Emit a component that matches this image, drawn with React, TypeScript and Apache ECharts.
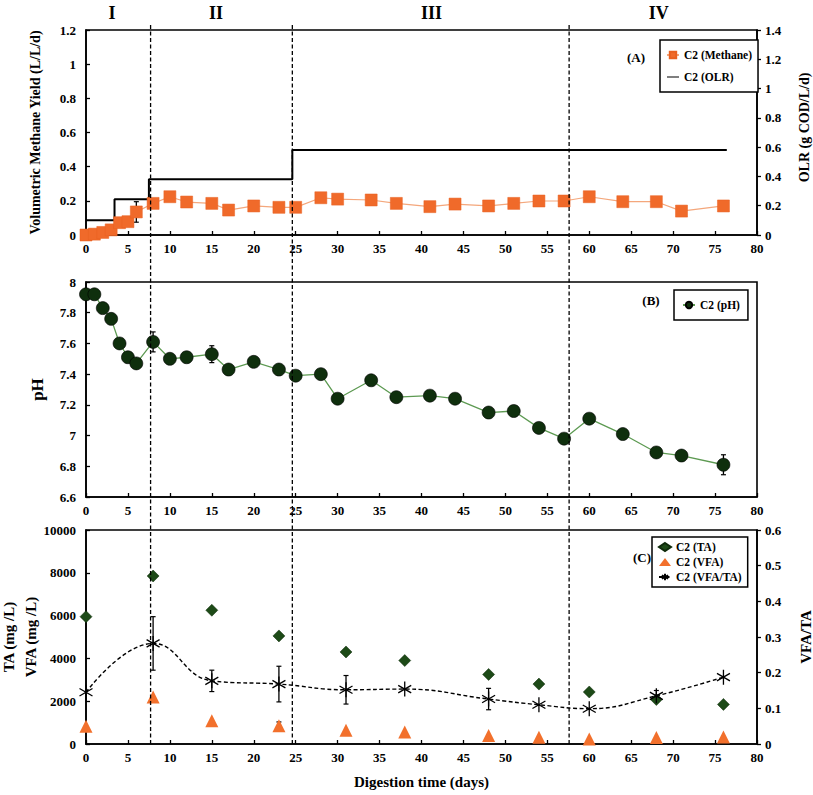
import React, { useEffect, useRef } from "react";
import * as echarts from "echarts";

// ---------- Data ----------
const methaneDays = [0, 1, 2, 3, 4, 5, 6, 8, 10, 12, 15, 17, 20, 23, 25, 28, 30, 34, 37, 41, 44, 48, 51, 54, 57, 60, 64, 68, 71, 76];
const methaneYield = [0, 0.005, 0.015, 0.03, 0.072, 0.078, 0.135, 0.185, 0.224, 0.193, 0.185, 0.146, 0.17, 0.162, 0.162, 0.218, 0.21, 0.205, 0.185, 0.166, 0.181, 0.17, 0.185, 0.199, 0.199, 0.224, 0.195, 0.195, 0.14, 0.17];
const methaneErrDays = [4, 6];
const methaneErr = [0.012, 0.06];

const olrDays = [0, 3.4, 7.5, 24.6, 76.4];
const olrValues = [0.1, 0.245, 0.38, 0.58, 0.58];

const phDays = [0, 1, 2, 3, 4, 5, 6, 8, 10, 12, 15, 17, 20, 23, 25, 28, 30, 34, 37, 41, 44, 48, 51, 54, 57, 60, 64, 68, 71, 76];
const phValues = [7.92, 7.92, 7.83, 7.76, 7.6, 7.51, 7.47, 7.61, 7.5, 7.51, 7.53, 7.43, 7.48, 7.43, 7.39, 7.4, 7.24, 7.36, 7.25, 7.26, 7.24, 7.15, 7.16, 7.05, 6.98, 7.11, 7.01, 6.89, 6.87, 6.81];
const phErrDays = [8, 15, 76];
const phErr = [0.065, 0.055, 0.065];

const alkDays = [0, 8, 15, 23, 31, 38, 48, 54, 60, 68, 76];
const taValues = [5950, 7850, 6250, 5050, 4300, 3900, 3250, 2800, 2430, 2080, 1850];
const vfaValues = [830, 2200, 1090, 850, 640, 560, 400, 310, 230, 300, 330];
const ratioValues = [0.145, 0.282, 0.177, 0.168, 0.152, 0.154, 0.126, 0.11, 0.099, 0.135, 0.1875];
const ratioErrDays = [8, 15, 23, 31, 48, 68];
const ratioErr = [0.075, 0.03, 0.05, 0.04, 0.03, 0.015];
const vfaErrDays = [23];
const vfaErr = [180];

const phaseBoundaries = [7.7, 24.6, 57.6];
const phaseNames = ["I", "II", "III", "IV"];
const phaseLabelDays = [3.1, 15.5, 41.2, 68.3];

// ---------- Styles ----------
const FONT = "Liberation Serif";
const tickLabel = { fontFamily: FONT, fontWeight: "bold" as const, fontSize: 13, color: "#000", formatter: (v: number) => String(v) };
const axisLineStyle = { lineStyle: { color: "#000", width: 1.6 } };

const errorRender = (params: any, api: any) => {
  const x = api.value(0);
  const p1 = api.coord([x, api.value(1)]);
  const p2 = api.coord([x, api.value(2)]);
  const c = 2.5;
  return {
    type: "group",
    children: [
      { type: "line", shape: { x1: p1[0], y1: p1[1], x2: p2[0], y2: p2[1] }, style: { stroke: "#000", lineWidth: 1.3 } },
      { type: "line", shape: { x1: p1[0] - c, y1: p1[1], x2: p1[0] + c, y2: p1[1] }, style: { stroke: "#000", lineWidth: 1.2 } },
      { type: "line", shape: { x1: p2[0] - c, y1: p2[1], x2: p2[0] + c, y2: p2[1] }, style: { stroke: "#000", lineWidth: 1.2 } },
    ],
  };
};

const errData = (days: number[], errs: number[], xs: number[], ys: number[]) =>
  days.map((d, i) => {
    const v = ys[xs.indexOf(d)];
    return [d, v - errs[i], v + errs[i]];
  });

const ASTERISK = "path://M10,0L10,20M1.34,5L18.66,15M1.34,15L18.66,5";
const LINE_ICON = "path://M0,0H0.01V0.01H0ZM0,9.99H0.01V10H0ZM0,4.3H20V5.7H0Z";

const xAxisBase = (gridIndex: number) => ({
  type: "value" as const,
  gridIndex,
  min: 0,
  max: 80,
  interval: 5,
  axisLine: { show: true, onZero: false, ...axisLineStyle },
  axisTick: { show: true, inside: true, length: 4, lineStyle: { color: "#000", width: 1.3 } },
  axisLabel: { ...tickLabel, margin: 7 },
  splitLine: { show: false },
});

const gridBase = { left: 86, right: 56, show: true, borderColor: "#000", borderWidth: 1.6, backgroundColor: "transparent", containLabel: false, outerBoundsMode: "none" };

export default function App() {
  const ref = useRef<HTMLDivElement>(null);
  useEffect(() => {
    if (!ref.current) return;
    const chart = echarts.init(ref.current, undefined, { renderer: "svg" });
    const legendText = { fontFamily: FONT, fontWeight: "bold" as const, fontSize: 11.5, color: "#000" };
    const legendBase = {
      orient: "vertical" as const,
      borderColor: "#000",
      borderWidth: 1.5,
      backgroundColor: "#fff",
      textStyle: legendText,
      itemGap: 6,
      itemWidth: 12,
      itemHeight: 8,
    };
    const option: any = {
      animation: false,
      backgroundColor: "#fff",
      grid: [
        { ...gridBase, top: 30, height: 205 },
        { ...gridBase, top: 282, height: 215 },
        { ...gridBase, top: 530, height: 214 },
      ],
      xAxis: [
        xAxisBase(0),
        xAxisBase(1),
        {
          ...xAxisBase(2),
          name: "Digestion time (days)",
          nameLocation: "middle",
          nameGap: 30,
          nameTextStyle: { fontFamily: FONT, fontWeight: "bold", fontSize: 15, color: "#000" },
        },
      ],
      yAxis: [
        {
          type: "value", gridIndex: 0, min: 0, max: 1.2, interval: 0.2,
          name: "Volumetric Methane Yield (L/L/d)", nameLocation: "middle", nameGap: 44, nameRotate: 90,
          nameTextStyle: { fontFamily: FONT, fontWeight: "bold", fontSize: 14, color: "#000" },
          axisLine: { show: true, ...axisLineStyle },
          axisTick: { show: true, inside: true, length: 4, lineStyle: { color: "#000", width: 1.3 } },
          axisLabel: { ...tickLabel, margin: 10 },
          splitLine: { show: false },
        },
        {
          type: "value", gridIndex: 0, min: 0, max: 1.4, interval: 0.2, position: "right",
          name: "OLR (g COD/L/d)", nameLocation: "middle", nameGap: 40, nameRotate: 90,
          nameTextStyle: { fontFamily: FONT, fontWeight: "bold", fontSize: 14, color: "#000", padding: [0, 0, 0, 10] },
          axisLine: { show: true, ...axisLineStyle },
          axisTick: { show: true, inside: false, length: 4, lineStyle: { color: "#000", width: 1.3 } },
          axisLabel: { ...tickLabel, margin: 8 },
          splitLine: { show: false },
        },
        {
          type: "value", gridIndex: 1, min: 6.6, max: 8, interval: 0.2,
          name: "pH", nameLocation: "middle", nameGap: 40, nameRotate: 90,
          nameTextStyle: { fontFamily: FONT, fontWeight: "bold", fontSize: 17, color: "#000" },
          axisLine: { show: true, ...axisLineStyle },
          axisTick: { show: true, inside: true, length: 4, lineStyle: { color: "#000", width: 1.3 } },
          axisLabel: { ...tickLabel, margin: 10 },
          splitLine: { show: false },
        },
        {
          type: "value", gridIndex: 2, min: 0, max: 10000, interval: 2000,
          name: "TA (mg /L)\nVFA (mg /L)", nameLocation: "middle", nameGap: 44, nameRotate: 90,
          nameMoveOverlap: false,
          nameTextStyle: { fontFamily: FONT, fontWeight: "bold", fontSize: 15, color: "#000", lineHeight: 22 },
          axisLine: { show: true, ...axisLineStyle },
          axisTick: { show: true, inside: true, length: 4, lineStyle: { color: "#000", width: 1.3 } },
          axisLabel: { ...tickLabel, margin: 10 },
          splitLine: { show: false },
        },
        {
          type: "value", gridIndex: 2, min: 0, max: 0.6, interval: 0.1, position: "right",
          name: "VFA/TA", nameLocation: "middle", nameGap: 41, nameRotate: 90,
          nameTextStyle: { fontFamily: FONT, fontWeight: "bold", fontSize: 15, color: "#000" },
          axisLine: { show: true, ...axisLineStyle },
          axisTick: { show: true, inside: false, length: 4, lineStyle: { color: "#000", width: 1.3 } },
          axisLabel: { ...tickLabel, margin: 8 },
          splitLine: { show: false },
        },
      ],
      legend: [
        {
          ...legendBase, left: 660, top: 40, padding: [9, 6, 9, 6], itemGap: 10,
          data: ["C2 (Methane)", { name: "C2 (OLR)", icon: LINE_ICON }],
        },
        { ...legendBase, left: 674, top: 290, padding: [9, 8, 9, 8], data: ["C2 (pH)"] },
        { ...legendBase, left: 652, top: 537, padding: [4, 6, 4, 6], itemGap: 3, data: ["C2 (TA)", "C2 (VFA)", "C2 (VFA/TA)"] },
      ],
      series: [
        {
          name: "C2 (Methane)", type: "line", xAxisIndex: 0, yAxisIndex: 0,
          data: methaneDays.map((d, i) => [d, methaneYield[i]]),
          symbol: "rect", symbolSize: 12,
          lineStyle: { color: "#f4a77c", width: 1.2 },
          itemStyle: { color: "#f06a2a", borderColor: "#e86020", borderWidth: 0.5 },
          z: 3,
        },
        {
          name: "C2 (OLR)", type: "line", xAxisIndex: 0, yAxisIndex: 1,
          data: olrDays.map((d, i) => [d, olrValues[i]]),
          step: "end", symbol: "none",
          lineStyle: { color: "#000", width: 2 },
          itemStyle: { color: "#000" },
          z: 2,
        },
        {
          type: "custom", xAxisIndex: 0, yAxisIndex: 0,
          data: errData(methaneErrDays, methaneErr, methaneDays, methaneYield),
          encode: { x: 0, y: [1, 2] }, renderItem: errorRender, z: 1,
        },
        {
          name: "C2 (pH)", type: "line", xAxisIndex: 1, yAxisIndex: 2,
          data: phDays.map((d, i) => [d, phValues[i]]),
          symbol: "circle", symbolSize: 13,
          lineStyle: { color: "#5d9a52", width: 1.3 },
          itemStyle: { color: "#0f2f0d", borderColor: "#000", borderWidth: 0.6 },
          z: 3,
        },
        {
          type: "custom", xAxisIndex: 1, yAxisIndex: 2,
          data: errData(phErrDays, phErr, phDays, phValues),
          encode: { x: 0, y: [1, 2] }, renderItem: errorRender, z: 1,
        },
        {
          name: "C2 (TA)", type: "scatter", xAxisIndex: 2, yAxisIndex: 3,
          data: alkDays.map((d, i) => [d, taValues[i]]),
          symbol: "diamond", symbolSize: 12,
          itemStyle: { color: "#1d4a17", borderColor: "#0e2a0a", borderWidth: 0.5, opacity: 1 },
          z: 3,
        },
        {
          name: "C2 (VFA)", type: "scatter", xAxisIndex: 2, yAxisIndex: 3,
          data: alkDays.map((d, i) => [d, vfaValues[i]]),
          symbol: "triangle", symbolSize: 13,
          itemStyle: { color: "#f2702c", opacity: 1 },
          z: 3,
        },
        {
          type: "custom", xAxisIndex: 2, yAxisIndex: 3,
          data: errData(vfaErrDays, vfaErr, alkDays, vfaValues),
          encode: { x: 0, y: [1, 2] }, renderItem: errorRender, z: 1,
        },
        {
          name: "C2 (VFA/TA)", type: "line", xAxisIndex: 2, yAxisIndex: 4,
          data: alkDays.map((d, i) => [d, ratioValues[i]]),
          smooth: 0.45,
          symbol: ASTERISK, symbolSize: 15, symbolKeepAspect: true,
          lineStyle: { color: "#000", width: 1.4, type: [4, 2.5] },
          itemStyle: { color: "#000", borderColor: "#000", borderWidth: 1.3 },
          z: 3,
        },
        {
          type: "custom", xAxisIndex: 2, yAxisIndex: 4,
          data: errData(ratioErrDays, ratioErr, alkDays, ratioValues),
          encode: { x: 0, y: [1, 2] }, renderItem: errorRender, z: 1,
        },
      ],
    };
    chart.setOption(option);

    const px = (d: number) => chart.convertToPixel({ xAxisIndex: 0 }, d) as number;
    const graphics: any[] = [];
    phaseBoundaries.forEach((d) => {
      const x = px(d);
      graphics.push({
        type: "line", z: 50,
        shape: { x1: x, y1: 25, x2: x, y2: 744 },
        style: { stroke: "#000", lineWidth: 1.3, lineDash: [4, 2.5] },
      });
    });
    phaseNames.forEach((n, i) => {
      graphics.push({
        type: "text", z: 50, x: px(phaseLabelDays[i]), y: 13,
        style: { text: n, fill: "#000", font: `bold 18px ${FONT}`, textAlign: "center", textVerticalAlign: "middle" },
      });
    });
    const panelLabels = [
      { t: "(A)", x: 636, y: 57 },
      { t: "(B)", x: 651, y: 300 },
      { t: "(C)", x: 642, y: 557 },
    ];
    panelLabels.forEach((p) => {
      graphics.push({
        type: "text", z: 50, x: p.x, y: p.y,
        style: { text: p.t, fill: "#000", font: `bold 13px ${FONT}`, textAlign: "center", textVerticalAlign: "middle" },
      });
    });
    chart.setOption({ graphic: graphics });

    return () => chart.dispose();
  }, []);
  return <div ref={ref} style={{ position: "absolute", left: 0, top: 0, width: 813, height: 795 }} />;
}
